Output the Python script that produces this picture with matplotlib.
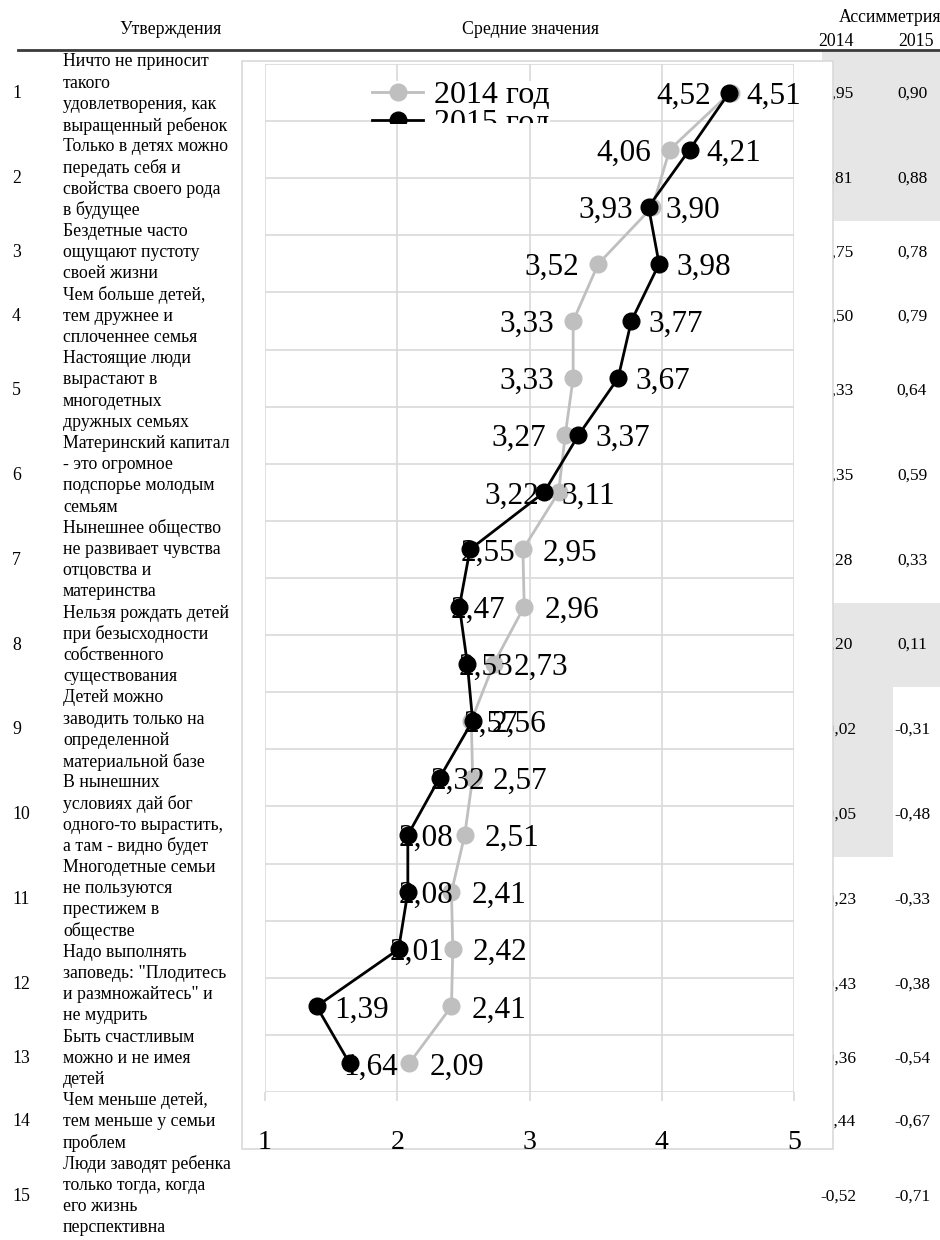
import matplotlib
matplotlib.use('Agg')
import matplotlib.pyplot as plt
import numpy as np
from matplotlib.patches import Rectangle
from matplotlib.lines import Line2D
from matplotlib.transforms import Bbox, TransformedBbox

# Средние значения и асимметрия по утверждениям (2014 / 2015)
plt.rcParams['font.family'] = ['Liberation Serif', 'DejaVu Serif']

W, H = 940, 1240

# --- данные таблицы ---
statements = [
    ['Ничто не приносит', 'такого', 'удовлетворения, как', 'выращенный ребенок'],
    ['Только в детях можно', 'передать себя и', 'свойства своего рода', 'в будущее'],
    ['Бездетные часто', 'ощущают пустоту', 'своей жизни'],
    ['Чем больше детей,', 'тем дружнее и', 'сплоченнее семья'],
    ['Настоящие люди', 'вырастают в', 'многодетных', 'дружных семьях'],
    ['Материнский капитал', '- это огромное', 'подспорье молодым', 'семьям'],
    ['Нынешнее общество', 'не развивает чувства', 'отцовства и', 'материнства'],
    ['Нельзя рождать детей', 'при безысходности', 'собственного', 'существования'],
    ['Детей можно', 'заводить только на', 'определенной', 'материальной базе'],
    ['В нынешних', 'условиях дай бог', 'одного-то вырастить,', 'а там - видно будет'],
    ['Многодетные семьи', 'не пользуются', 'престижем в', 'обществе'],
    ['Надо выполнять', 'заповедь: "Плодитесь', 'и размножайтесь" и', 'не мудрить'],
    ['Быть счастливым', 'можно и не имея', 'детей'],
    ['Чем меньше детей,', 'тем меньше у семьи', 'проблем'],
    ['Люди заводят ребенка', 'только тогда, когда', 'его жизнь', 'перспективна'],
]
row_numbers = ['1', '2', '3', '4', '5', '6', '7', '8', '9', '10', '11', '12', '13', '14', '15']
asym_2014 = [0.95, 0.81, 0.75, 0.50, 0.33, 0.35, 0.28, 0.20, -0.02, -0.05, -0.23, -0.43, -0.36, -0.44, -0.52]
asym_2015 = [0.90, 0.88, 0.78, 0.79, 0.64, 0.59, 0.33, 0.11, -0.31, -0.48, -0.33, -0.38, -0.54, -0.67, -0.71]

# --- данные графика ---
mean_2014 = [4.52, 4.06, 3.93, 3.52, 3.33, 3.33, 3.27, 3.22, 2.95, 2.96, 2.73, 2.56, 2.57, 2.51, 2.41, 2.42, 2.41, 2.09]
mean_2015 = [4.51, 4.21, 3.90, 3.98, 3.77, 3.67, 3.37, 3.11, 2.55, 2.47, 2.53, 2.57, 2.32, 2.08, 2.08, 2.01, 1.39, 1.64]
x_ticks = [1, 2, 3, 4, 5]
series_names = ['2014 год', '2015 год']

# положение подписей данных (смещение в пикселях от точки)
gray_label_dx = [-19] * 8 + [20] * 10
black_label_dx = [17] * 8 + [-9] * 8 + [18, -6]

GRID = '#d9d9d9'
SHADE = '#e7e6e6'
TXT = 12.8


def fx(x):
    return x / W


def fy(y):
    return 1 - y / H


def fmt(v):
    return '{:.2f}'.format(v).replace('.', ',')


fig = plt.figure(figsize=(W / 100, H / 100), dpi=100)

# шапка таблицы
fig.text(fx(170), fy(30), 'Утверждения', ha='center', va='center', fontsize=TXT)
fig.text(fx(530), fy(30), 'Средние значения', ha='center', va='center', fontsize=TXT)
fig.text(fx(941), fy(18), 'Ассимметрия', ha='right', va='center', fontsize=TXT)
fig.text(fx(836), fy(41), '2014', ha='center', va='center', fontsize=TXT)
fig.text(fx(916), fy(41), '2015', ha='center', va='center', fontsize=TXT)
fig.add_artist(Line2D([fx(18), fx(940)], [fy(50), fy(50)], color='#3a3a3a', lw=2.0))

# заливка ячеек асимметрии
line_h = 21.2
top_line = 62
fig.add_artist(Rectangle((fx(822), fy(221)), fx(940) - fx(822), fy(52) - fy(221),
                         facecolor=SHADE, edgecolor='none', zorder=0.5))
fig.add_artist(Rectangle((fx(822), fy(687)), fx(940) - fx(822), fy(603) - fy(687),
                         facecolor=SHADE, edgecolor='none', zorder=0.5))
fig.add_artist(Rectangle((fx(822), fy(857)), fx(893) - fx(822), fy(687) - fy(857),
                         facecolor=SHADE, edgecolor='none', zorder=0.5))

# строки таблицы
line_idx = 0
for i, lines in enumerate(statements):
    ys = []
    for txt in lines:
        y = top_line + line_h * line_idx
        ys.append(y)
        fig.text(fx(63), fy(y), txt, ha='left', va='center', fontsize=TXT, zorder=1)
        line_idx += 1
    yc = np.mean(ys)
    fig.text(fx(12), fy(yc), row_numbers[i], ha='left', va='center', fontsize=TXT, zorder=1)
    fig.text(fx(838), fy(yc), fmt(asym_2014[i]), ha='center', va='center', fontsize=12.5, zorder=1)
    fig.text(fx(912), fy(yc), fmt(asym_2015[i]), ha='center', va='center', fontsize=12.5, zorder=1)

# рамка диаграммы
fig.add_artist(Rectangle((fx(242), fy(1149)), fx(833) - fx(242), fy(61) - fy(1149),
                         facecolor='white', edgecolor=GRID, lw=1.2, zorder=2))

ax = fig.add_axes([fx(265), fy(1092), fx(794) - fx(265), fy(64) - fy(1092)])
ax.set_zorder(3)
ax.patch.set_alpha(0)

rows = np.arange(len(mean_2014))
l14, = ax.plot(mean_2014, rows, color='#bfbfbf', lw=2.0, marker='o', ms=12, zorder=2,
               label=series_names[0])
l15, = ax.plot(mean_2015, rows, color='black', lw=2.0, marker='o', ms=12, zorder=4,
               label=series_names[1])

for r in rows:
    dx = gray_label_dx[r]
    ax.annotate(fmt(mean_2014[r]), (mean_2014[r], r), xytext=(dx * 0.72, 0),
                textcoords='offset points', ha='right' if dx < 0 else 'left',
                va='center_baseline', fontsize=22.5, zorder=3)
    ax.annotate(fmt(mean_2015[r]), (mean_2015[r], r), xytext=(black_label_dx[r] * 0.72, 0),
                textcoords='offset points', ha='left', va='center_baseline', fontsize=22.5, zorder=3)

ax.set_xlim(1, 5)
ax.set_ylim(len(rows) - 0.5, -0.5)
ax.set_xticks(x_ticks)
ax.set_xticklabels([str(t) for t in x_ticks])
ax.set_yticks([])
ax.set_yticks(np.arange(-0.5, len(rows), 1), minor=True)
ax.grid(True, which='major', axis='x', color=GRID, lw=1.2)
ax.grid(True, which='minor', axis='y', color=GRID, lw=1.2)
ax.tick_params(axis='x', length=6.5, color=GRID, width=1.2, labelsize=20, pad=21)
ax.tick_params(axis='y', which='both', length=0)
for s in ax.spines.values():
    s.set_visible(False)

# легенда (обрезана снизу, как в оригинале)
leg = ax.legend(loc='upper left', bbox_to_anchor=(fx(372), fy(81)), bbox_transform=fig.transFigure,
                fontsize=23, frameon=True, facecolor='white', edgecolor='none', framealpha=1,
                handlelength=1.6, handletextpad=0.35, borderpad=0.0, borderaxespad=0,
                labelspacing=-0.05, fancybox=False)
clip = TransformedBbox(Bbox.from_extents(0, fy(123), 1, 1), fig.transFigure)
leg.legendPatch.set_clip_box(clip)
for a in leg.get_texts() + leg.get_lines():
    a.set_clip_box(clip)

fig.savefig('out.png', dpi=100)
